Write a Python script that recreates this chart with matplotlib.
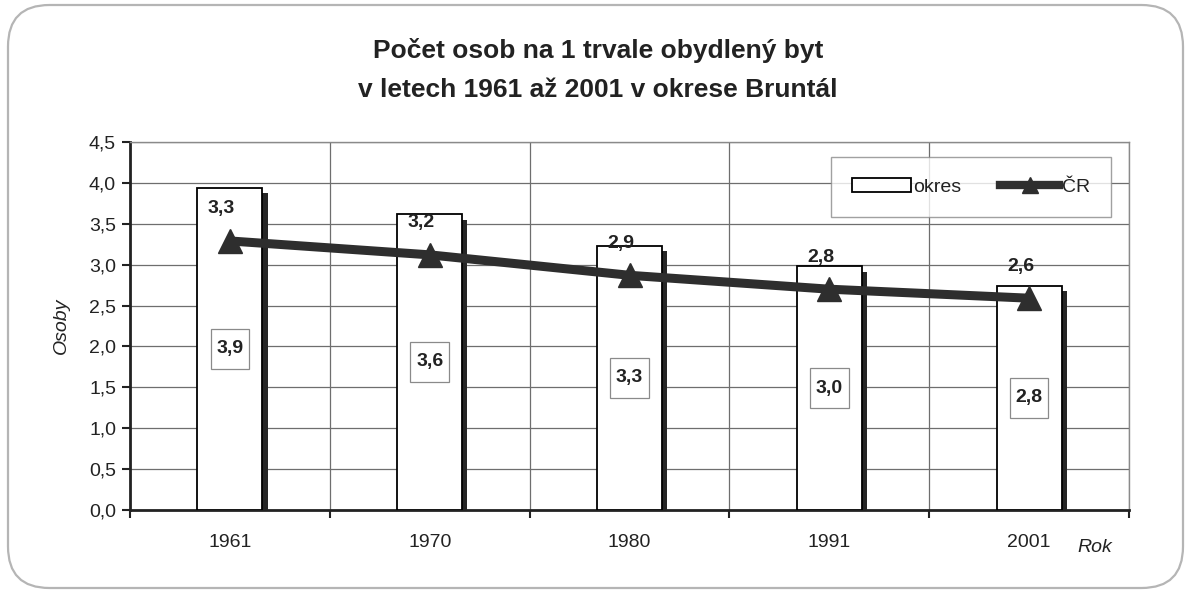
import matplotlib
matplotlib.use("Agg")
import matplotlib.pyplot as plt
import matplotlib.patheffects as pe
from matplotlib.patches import FancyBboxPatch, Patch
from matplotlib.lines import Line2D
from matplotlib.path import Path
import numpy as np

plt.rcParams['font.family'] = ['Liberation Sans', 'DejaVu Sans']

# ---- data ----
years = ["1961", "1970", "1980", "1991", "2001"]
okres = [3.94, 3.62, 3.23, 2.98, 2.74]
okres_labels = ["3,9", "3,6", "3,3", "3,0", "2,8"]
cr = [3.29, 3.12, 2.87, 2.70, 2.59]
cr_labels = ["3,3", "3,2", "2,9", "2,8", "2,6"]
yticks = [0.0, 0.5, 1.0, 1.5, 2.0, 2.5, 3.0, 3.5, 4.0, 4.5]
title = "Počet osob na 1 trvale obydlený byt\nv letech 1961 až 2001 v okrese Bruntál"

W, H = 1186, 594
fig = plt.figure(figsize=(W / 100, H / 100), dpi=100)
fig.patch.set_facecolor("white")

# rounded outer frame
frame = FancyBboxPatch((8 / W, 6 / H), (1175 / W), (583 / H),
                       boxstyle="round,pad=0,rounding_size=0.035",
                       transform=fig.transFigure, facecolor="white",
                       edgecolor="#b5b5b5", linewidth=1.6, zorder=-5,
                       mutation_aspect=W / H)
fig.patches.append(frame)

ax = fig.add_axes([130 / W, 1 - 510 / H, 999 / W, 368 / H])
ax.set_facecolor("white")
x = np.arange(len(years))

# bars with shadow
bars = ax.bar(x, okres, width=0.325, color="white", edgecolor="black",
              linewidth=1.3, zorder=3)
for b in bars:
    b.set_path_effects([pe.SimplePatchShadow(offset=(3.8, -4.0),
                                             shadow_rgbFace="#262626", alpha=1.0),
                        pe.Normal()])

# CR line
ax.plot(x, cr, color="#2e2e2e", linewidth=6.5, marker="^", markersize=17,
        markerfacecolor="#2e2e2e", markeredgecolor="#2e2e2e", zorder=5,
        solid_capstyle="butt")


def tall_box(x0, y0, width, height, mutation_size):
    px = 0.3 * mutation_size
    py = 0.6 * mutation_size
    x0, y0 = x0 - px, y0 - py
    x1, y1 = x0 + width + 2 * px, y0 + height + 2 * py
    return Path([(x0, y0), (x1, y0), (x1, y1), (x0, y1), (x0, y0)], closed=True)


# labels inside bars
for xi, v, lab in zip(x, okres, okres_labels):
    ax.text(xi, v / 2, lab, ha="center", va="center", fontsize=14,
            fontweight="bold", color="#222222", zorder=6,
            bbox=dict(boxstyle=tall_box, facecolor="white",
                      edgecolor="#8a8a8a", linewidth=0.9))

# CR labels
for xi, v, lab in zip(x, cr, cr_labels):
    ax.annotate(lab, (xi, v), xytext=(-6, 17), textcoords="offset points",
                ha="center", va="bottom", fontsize=14, fontweight="bold",
                color="#222222", zorder=6)

ax.set_xlim(-0.5, len(years) - 0.5)
ax.set_ylim(0, 4.5)

# gridlines
ax.set_yticks(yticks)
ax.set_yticklabels([f"{t:.1f}".replace(".", ",") for t in yticks])
ax.set_xticks(np.arange(len(years) + 1) - 0.5)
ax.set_xticklabels([])
ax.set_xticks(x, minor=True)
ax.set_xticklabels(years, minor=True)
ax.tick_params(axis="x", which="minor", length=0, pad=17, labelsize=14,
               colors="#222222")
ax.tick_params(axis="x", which="major", length=6, width=1.5, direction="out",
               color="#222222")
ax.tick_params(axis="y", length=6, width=1.5, direction="out", pad=4,
               labelsize=14, colors="#222222")
ax.grid(True, which="major", color="#6e6e6e", linewidth=0.9, zorder=0)
ax.set_axisbelow(True)

for s in ["top", "right"]:
    ax.spines[s].set_color("#8a8a8a")
    ax.spines[s].set_linewidth(1.0)
for s in ["left", "bottom"]:
    ax.spines[s].set_color("#222222")
    ax.spines[s].set_linewidth(2.0)

ax.set_ylabel("Osoby", fontsize=14, fontstyle="italic", color="#222222",
              labelpad=14)
fig.text(1095 / W, 1 - 548 / H, "Rok", fontsize=14, fontstyle="italic",
         color="#222222", ha="center", va="center")

fig.text(598 / W, 1 - 70 / H, title, ha="center", va="center",
         fontsize=19, fontweight="bold", color="#222222", linespacing=1.75)

# legend
h1 = Patch(facecolor="white", edgecolor="black", linewidth=1.3, label="okres")
h2 = Line2D([0], [0], color="#2e2e2e", linewidth=6, marker="^",
            markersize=11, label="ČR")
leg = fig.legend(handles=[h1, h2], loc="center",
                 bbox_to_anchor=(971 / W, 1 - 187 / H), ncol=2, frameon=True,
                 fancybox=False, edgecolor="#8a8a8a", fontsize=14,
                 handlelength=3.0, handleheight=0.75, handletextpad=0.15,
                 columnspacing=2.0, borderpad=1.1, borderaxespad=0)
leg.get_frame().set_linewidth(1.0)
for t in leg.get_texts():
    t.set_color("#222222")

fig.savefig("out.png", dpi=100, facecolor="white")
